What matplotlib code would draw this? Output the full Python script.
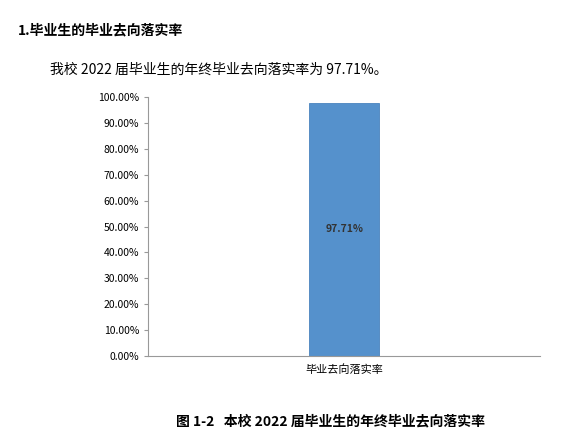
import matplotlib
matplotlib.use("Agg")
import matplotlib.pyplot as plt
from matplotlib.ticker import FuncFormatter

plt.rcParams['font.family'] = ['Noto Sans CJK SC', 'DejaVu Sans']

categories = ["毕业去向落实率"]
values = [97.71]
yticks = [0, 10, 20, 30, 40, 50, 60, 70, 80, 90, 100]

fig = plt.figure(figsize=(5.76, 4.45), dpi=100)
ax = fig.add_axes([0.257, 0.2, 0.681, 0.582])
bars = ax.bar([0], values, width=0.18, color="#5591CC", edgecolor="#4A84BE", linewidth=0.6)
ax.set_xlim(-0.5, 0.5)
ax.set_ylim(0, 100)
ax.set_yticks(yticks)
ax.yaxis.set_major_formatter(FuncFormatter(lambda v, p: f"{v:.2f}%"))
ax.set_xticks([0])
ax.set_xticklabels(categories, fontsize=8)
ax.tick_params(axis='y', labelsize=7.5, length=3, color="#999999")
ax.tick_params(axis='x', length=0, pad=6)
for s in ["top", "right"]:
    ax.spines[s].set_visible(False)
ax.spines["left"].set_color("#999999")
ax.spines["bottom"].set_color("#999999")
for b, v in zip(bars, values):
    ax.text(b.get_x() + b.get_width() / 2, v / 2, f"{v:.2f}%", ha="center", va="center",
            fontsize=7.5, fontweight="bold", color="#333333")

fig.text(18 / 576, 1 - 30 / 445, "1.毕业生的毕业去向落实率", fontsize=10, fontweight="bold", va="center")
fig.text(50 / 576, 1 - 70 / 445, "我校 2022 届毕业生的年终毕业去向落实率为 97.71%。", fontsize=10, va="center")
fig.text(330 / 576, 1 - 421 / 445, "图 1-2   本校 2022 届毕业生的年终毕业去向落实率", fontsize=10,
         fontweight="bold", va="center", ha="center")
fig.savefig("out.png", dpi=100)
